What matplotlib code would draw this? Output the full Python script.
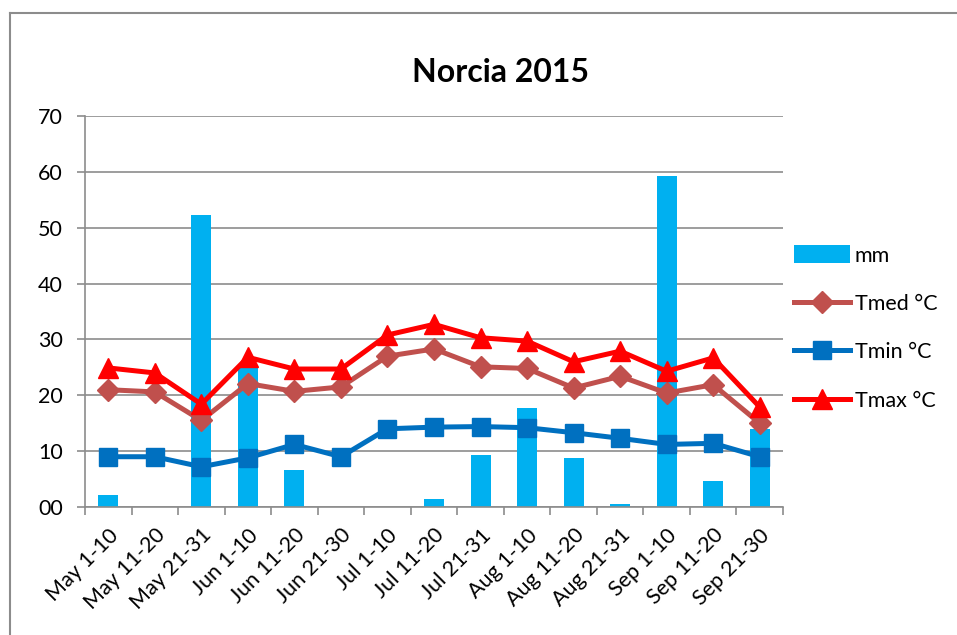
import matplotlib
matplotlib.use("Agg")
import matplotlib.pyplot as plt
from matplotlib.lines import Line2D
import numpy as np

categories = ["May 1-10", "May 11-20", "May 21-31", "Jun 1-10", "Jun 11-20", "Jun 21-30",
              "Jul 1-10", "Jul 11-20", "Jul 21-31", "Aug 1-10", "Aug 11-20", "Aug 21-31",
              "Sep 1-10", "Sep 11-20", "Sep 21-30"]
mm = [2.2, 0, 52.3, 25.1, 6.6, 0, 0, 1.5, 9.3, 17.7, 8.7, 0.6, 59.3, 4.6, 14.0]
tmed = [21.0, 20.6, 15.5, 22.1, 20.7, 21.5, 27.0, 28.3, 25.1, 24.8, 21.3, 23.4, 20.4, 21.9, 15.0]
tmin = [9.0, 9.0, 7.2, 8.8, 11.2, 9.0, 14.0, 14.3, 14.4, 14.2, 13.3, 12.3, 11.2, 11.4, 9.0]
tmax = [24.9, 24.0, 18.4, 26.8, 24.7, 24.7, 30.8, 32.7, 30.3, 29.7, 26.0, 27.9, 24.3, 26.7, 17.9]
yticks = [0, 10, 20, 30, 40, 50, 60, 70]
ytick_labels = ["00", "10", "20", "30", "40", "50", "60", "70"]

plt.rcParams['font.family'] = ['Lato', 'DejaVu Sans']

fig = plt.figure(figsize=(9.57, 6.35), dpi=100)
ax = fig.add_axes([85/957, 1-507/635, (783-85)/957, (507-116)/635])

x = np.arange(len(categories))
gray = '#8c8c8c'

ax.bar(x, mm, width=0.43, color='#00B0F0', label='mm', zorder=2)
ax.plot(x, tmed, color='#C0504D', lw=3.6, marker='D', ms=11, label='Tmed °C', zorder=3)
ax.plot(x, tmin, color='#0070C0', lw=3.6, marker='s', ms=13, label='Tmin °C', zorder=3)
ax.plot(x, tmax, color='#FF0000', lw=3.6, marker='^', ms=15, label='Tmax °C', zorder=4)

ax.set_xlim(-0.5, len(categories) - 0.5)
ax.set_ylim(0, 70)
ax.set_yticks(yticks)
ax.set_yticklabels(ytick_labels, fontsize=15.5)
ax.yaxis.grid(True, color=gray, lw=1.2, zorder=0)
ax.set_axisbelow(True)

ax.set_xticks(x)
ax.set_xticklabels(categories, fontsize=15.5, rotation=45, ha='right', rotation_mode='anchor')
ax.tick_params(axis='x', length=0, pad=13)
ax.set_xticks(np.arange(-0.5, len(categories)), minor=True)
ax.tick_params(axis='x', which='minor', length=6, color=gray, width=1.2)
ax.tick_params(axis='y', length=6, color=gray, width=1.2, pad=10)

for s in ['top', 'right']:
    ax.spines[s].set_visible(False)
for s in ['left', 'bottom']:
    ax.spines[s].set_color(gray)
    ax.spines[s].set_linewidth(1.2)

fig.text(500/957, 1-72/635, "Norcia 2015", ha='center', va='center', fontsize=23, fontweight='bold')

h, l = ax.get_legend_handles_labels()
order = [3, 0, 1, 2]
leg = fig.legend([h[i] for i in order], [l[i] for i in order], loc='center left',
                 bbox_to_anchor=(775/957, 1-328/635),
                 frameon=False, fontsize=15.5, handlelength=2.6, handleheight=0.9,
                 labelspacing=1.3, handletextpad=0.2)

# outer border
fig.add_artist(Line2D([10/957, 10/957], [0, 1-13/635], transform=fig.transFigure, color=gray, lw=1.5))
fig.add_artist(Line2D([10/957, 1], [1-13/635, 1-13/635], transform=fig.transFigure, color=gray, lw=1.5))

fig.savefig("out.png", dpi=100)
